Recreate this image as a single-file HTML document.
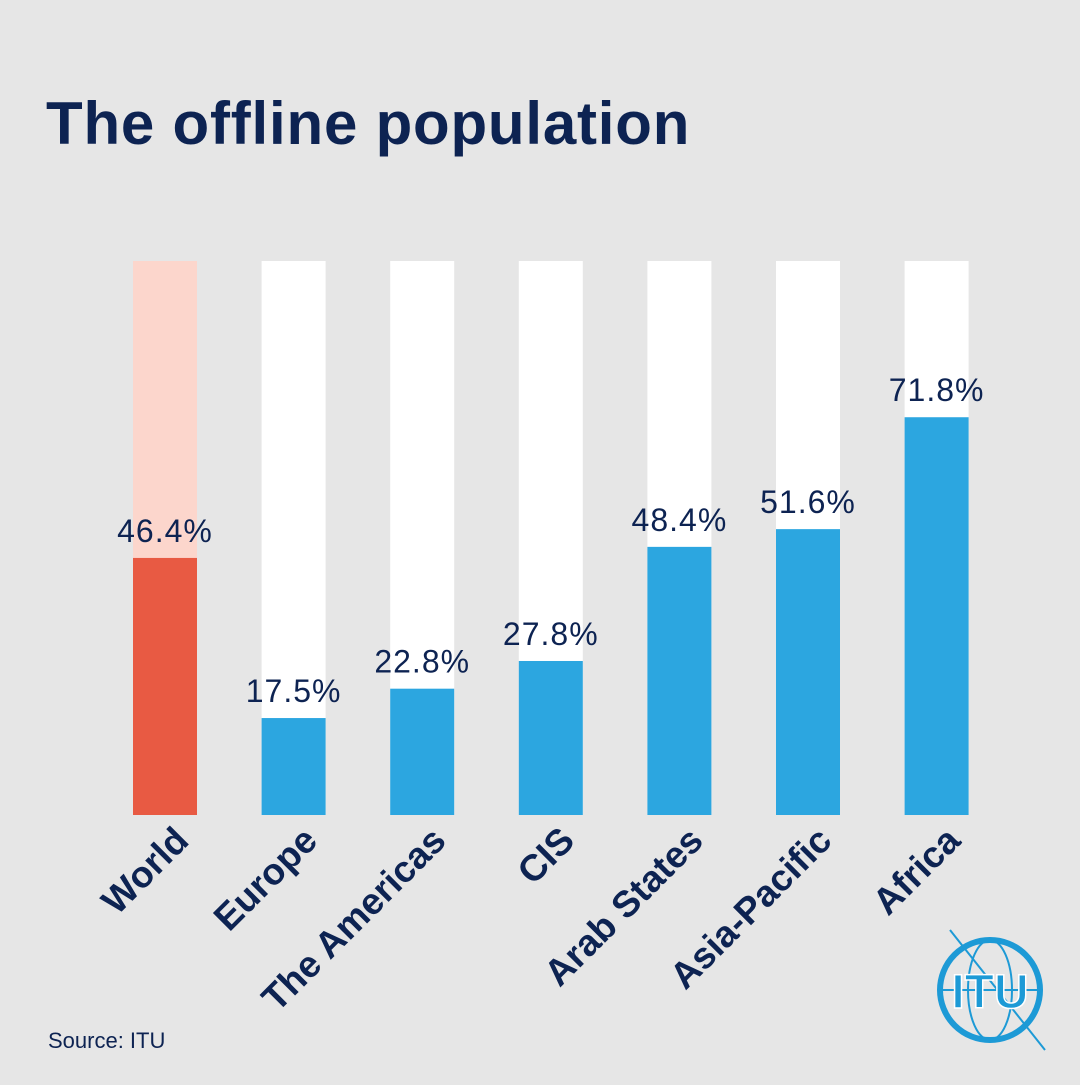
<!DOCTYPE html>
<html><head><meta charset="utf-8"><style>
html,body{margin:0;padding:0;background:#e6e6e6;}
body{width:1080px;height:1080px;overflow:hidden;font-family:"Liberation Sans",sans-serif;}
</style></head><body>
<svg width="1080" height="1080" viewBox="0 0 1080 1080">
<rect x="0" y="0" width="1080" height="1080" fill="#e6e6e6"/>
<text x="46" y="144" font-size="60" font-weight="bold" fill="#0d2352" letter-spacing="0.8">The offline population</text>
<g id="bars"></g>
<text x="48" y="1048" font-size="22" fill="#0d2352">Source: ITU</text>
<g fill="none" stroke="#1d9ad6">
<circle cx="990" cy="990" r="50" stroke-width="6"/>
<ellipse cx="990" cy="990" rx="22" ry="50" stroke-width="2"/>
<line x1="940" y1="990" x2="1040" y2="990" stroke-width="2"/>
<line x1="950" y1="930" x2="1045" y2="1050" stroke-width="2"/>
<text x="990" y="1008" font-size="48" font-weight="bold" fill="#1d9ad6" stroke="#fff" stroke-width="1.5" text-anchor="middle">ITU</text>
</g>
</svg>
<script>
const categories=["World","Europe","The Americas","CIS","Arab States","Asia-Pacific","Africa"];
const values=[46.4,17.5,22.8,27.8,48.4,51.6,71.8];
const valueLabels=["46.4%","17.5%","22.8%","27.8%","48.4%","51.6%","71.8%"];
const ns="http://www.w3.org/2000/svg";
const g=document.getElementById('bars');
const x0=133,step=128.6,bw=64,yTop=261,yBot=815;
function xPos(i){return x0+i*step;}
function yPos(v){return yBot-(v/100)*(yBot-yTop);}
categories.forEach((c,i)=>{
 const x=xPos(i);const world=i===0;
 const bg=document.createElementNS(ns,'rect');
 bg.setAttribute('x',x);bg.setAttribute('y',yTop);bg.setAttribute('width',bw);bg.setAttribute('height',yBot-yTop);
 bg.setAttribute('fill',world?'#fcd6cc':'#ffffff');
 
 
 g.appendChild(bg);
 const r=document.createElementNS(ns,'rect');
 const y=yPos(values[i]);
 r.setAttribute('x',x);r.setAttribute('y',y);r.setAttribute('width',bw);r.setAttribute('height',yBot-y);
 r.setAttribute('fill',world?'#e85a43':'#2ca6e0');
 
 
 g.appendChild(r);
 const t=document.createElementNS(ns,'text');
 t.setAttribute('x',x+bw/2);t.setAttribute('y',y-16);t.setAttribute('text-anchor','middle');
 t.setAttribute('font-size','32');t.setAttribute('fill','#0d2352');t.textContent=valueLabels[i];
 t.setAttribute('letter-spacing','1');
 
 
 g.appendChild(t);
 const l=document.createElementNS(ns,'text');
 const lx=x+bw-25,ly=824;
 l.setAttribute('x',lx);l.setAttribute('y',ly);l.setAttribute('text-anchor','end');
 l.setAttribute('transform','rotate(-45 '+lx+' '+ly+')');
 l.setAttribute('font-size','37');l.setAttribute('font-weight','bold');l.setAttribute('fill','#0d2352');
 l.setAttribute('dominant-baseline','hanging');
 l.textContent=c;
 
 
 g.appendChild(l);
});
</script>
</body></html>
